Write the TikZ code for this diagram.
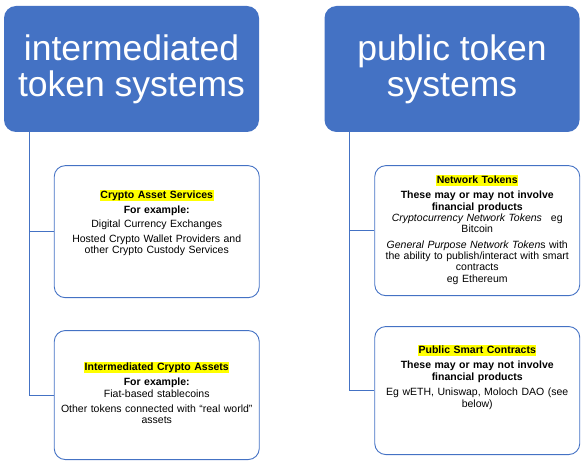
\documentclass[tikz,border=0pt]{standalone}
\usepackage{fontspec}
\setmainfont{Liberation Sans}
\usepackage{xcolor}
\definecolor{tokenblue}{RGB}{68,114,196}
\definecolor{markyellow}{RGB}{255,255,0}
\usepackage{tikz}
\usetikzlibrary{positioning}
\newcommand{\hl}[1]{{\setlength{\fboxsep}{0.6pt}\colorbox{markyellow}{\vrule height 7.6pt depth 2.2pt width 0pt#1}}}

\begin{document}
\begin{tikzpicture}[x=1pt, y=-1pt,
	head/.style={rectangle, fill=tokenblue, rounded corners=12pt, align=center,
	             minimum width=255pt, minimum height=126pt, text=white, inner sep=0pt,
	             font=\fontsize{35.5}{36}\selectfont},
	card/.style={rectangle, draw=tokenblue, line width=0.9pt, rounded corners=11pt,
	             minimum width=205pt, inner sep=0pt},
	txt/.style={align=center, text width=203pt, inner sep=0pt,
	            font=\fontsize{10.5}{11.3}\selectfont},
	link/.style={draw=tokenblue, line width=0.9pt}
	]
\useasboundingbox (0,0) rectangle (583,465);

% two headers
\node[head] (h1) at (131.5,69) {intermediated\\token systems};
\node[head] (h2) at (452,69) {public token\\systems};

% cards under the left header
\node[card, minimum height=132pt, below right=33pt and 50pt of h1.south west] (lc1) {};
\node[card, minimum height=129pt, below=32pt of lc1] (lc2) {};
\node[txt, below=25pt of lc1.north] (lt1) {%
	\hl{\textbf{Crypto Asset Services}}\\[4pt]
	\textbf{For example:}\\[2.5pt]
	Digital Currency Exchanges\\[3.5pt]
	Hosted Crypto Wallet Providers and\\
	other Crypto Custody Services};
\node[txt, below=32pt of lc2.north] (lt2) {%
	\hl{\textbf{Intermediated Crypto Assets}}\\[4pt]
	\textbf{For example:}\\
	Fiat-based stablecoins\\[4pt]
	Other tokens connected with “real world”\\
	assets};

% cards under the right header
\node[card, minimum height=130pt, below right=33pt and 50pt of h2.south west] (rc1) {};
\node[card, minimum height=128pt, below=30pt of rc1] (rc2) {};
\node[txt, below=10pt of rc1.north] (rt1) {%
	\hl{\textbf{Network Tokens}}\\[4pt]
	\textbf{These may or may not involve}\\
	\textbf{financial products}\\
	\textit{Cryptocurrency Network Tokens}\hspace{9pt}eg\\
	Bitcoin\\[4pt]
	\textit{General Purpose Network Token}s with\\
	the ability to publish/interact with smart\\
	contracts\\
	eg Ethereum};
\node[txt, below=19pt of rc2.north] (rt2) {%
	\hl{\textbf{Public Smart Contracts}}\\[4pt]
	\textbf{These may or may not involve}\\
	\textbf{financial products}\\[4.5pt]
	Eg wETH, Uniswap, Moloch DAO (see\\
	below)};

% connectors
\coordinate (lspine) at ([xshift=25.5pt]h1.south west);
\coordinate (rspine) at ([xshift=25.5pt]h2.south west);
\draw[link] (lspine) |- (lc2.west);
\draw[link] (lc1.west) -| (lspine);
\draw[link] (rspine) |- (rc2.west);
\draw[link] (rc1.west) -| (rspine);

\end{tikzpicture}
\end{document}
